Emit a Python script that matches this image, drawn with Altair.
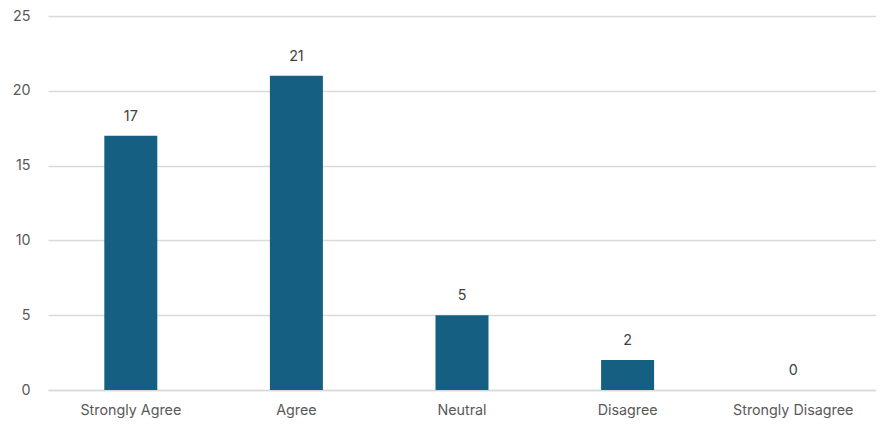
import altair as alt
import pandas as pd

categories = ["Strongly Agree", "Agree", "Neutral", "Disagree", "Strongly Disagree"]
counts = [17, 21, 5, 2, 0]

df = pd.DataFrame({"category": categories, "count": counts})

FONT = "Inter"
FS = 14.3

x = alt.X("category:N", sort=categories, title=None,
          scale=alt.Scale(paddingInner=0.68, paddingOuter=0.34),
          axis=alt.Axis(labelAngle=0, labelFontSize=FS, labelColor="#595959", labelFont=FONT,
                        labelPadding=13, ticks=False, domainColor="#D9D9D9", domainWidth=1.3,
                        grid=False))
y = alt.Y("count:Q", title=None,
          scale=alt.Scale(domain=[0, 25], nice=False),
          axis=alt.Axis(values=[0, 5, 10, 15, 20, 25], labelFontSize=FS, labelColor="#595959",
                        labelFont=FONT, labelPadding=18, ticks=False, domain=False,
                        gridColor="#D9D9D9", gridWidth=1.3))

bars = alt.Chart(df).mark_bar(color="#156082").encode(x=x, y=y)
labels = alt.Chart(df).mark_text(dy=-19, fontSize=FS, color="#404040", font=FONT).encode(
    x=alt.X("category:N", sort=categories), y="count:Q", text="count:Q")

chart = (bars + labels).properties(
    width=828, height=374,
    autosize=alt.AutoSizeParams(type="none"),
    padding={"left": 40, "top": 8, "right": 0, "bottom": 34},
).configure_view(stroke=None)

chart.save("out.html", embed_options={"renderer": "svg", "actions": False})
